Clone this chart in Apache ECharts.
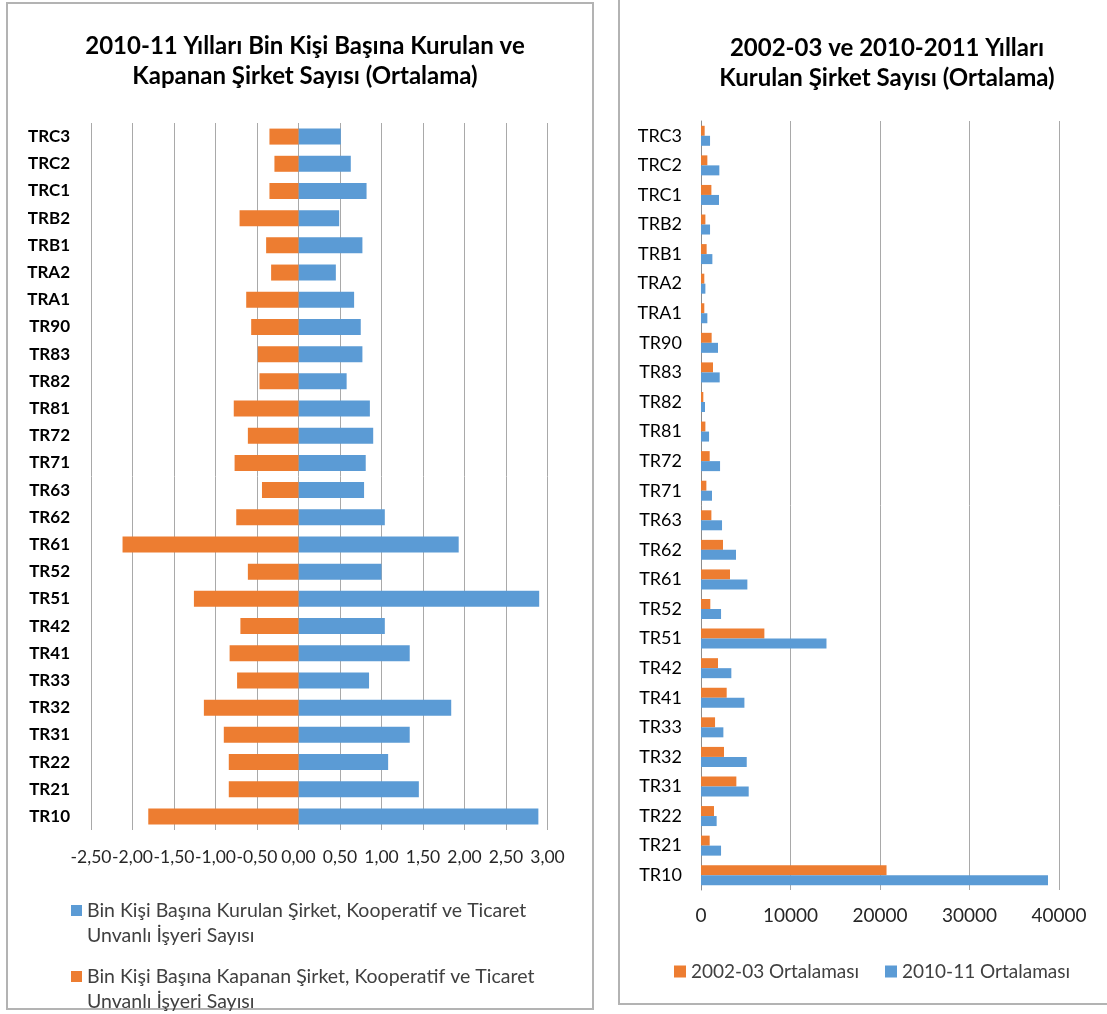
<!DOCTYPE html>
<html>
<head>
<meta charset="utf-8">
<script src="https://cdn.jsdelivr.net/npm/echarts@6/dist/echarts.min.js"></script>
<style>html,body{margin:0;padding:0;background:#fff;}#c{width:1107px;height:1014px;}</style>
</head>
<body>
<div id="c"></div>
<script>
// Categories (top to bottom)
const categories = ['TRC3','TRC2','TRC1','TRB2','TRB1','TRA2','TRA1','TR90','TR83','TR82','TR81','TR72','TR71','TR63','TR62','TR61','TR52','TR51','TR42','TR41','TR33','TR32','TR31','TR22','TR21','TR10'];

// Left chart: per thousand people (2010-11)
const kurulan = [0.51,0.63,0.82,0.49,0.77,0.45,0.67,0.75,0.77,0.58,0.86,0.90,0.81,0.79,1.04,1.93,1.00,2.90,1.04,1.34,0.85,1.84,1.34,1.08,1.45,2.89];
const kapanan = [-0.35,-0.29,-0.35,-0.71,-0.39,-0.33,-0.63,-0.57,-0.49,-0.47,-0.78,-0.61,-0.77,-0.44,-0.75,-2.12,-0.61,-1.26,-0.70,-0.83,-0.74,-1.14,-0.90,-0.84,-0.84,-1.81];

// Right chart: number of companies founded (averages)
const avg0203 = [410,710,1160,490,630,370,370,1190,1340,260,490,970,600,1160,2460,3240,1040,7080,1900,2870,1570,2570,3950,1450,970,20730];
const avg1011 = [1010,2050,2010,1010,1270,490,710,1900,2090,450,900,2130,1230,2350,3910,5180,2240,14020,3390,4850,2500,5110,5330,1750,2240,38770];

const leftTicks = {min: -2.5, max: 3, interval: 0.5};
const rightTicks = {min: 0, max: 40000, interval: 10000};

const nameKurulan = 'Bin Kişi Başına Kurulan Şirket, Kooperatif ve Ticaret Unvanlı İşyeri Sayısı';
const nameKapanan = 'Bin Kişi Başına Kapanan Şirket, Kooperatif ve Ticaret Unvanlı İşyeri Sayısı';
const name0203 = '2002-03 Ortalaması';
const name1011 = '2010-11 Ortalaması';

const FONT = 'Lato, "Open Sans", sans-serif';
const BLUE = '#5B9BD5', ORANGE = '#ED7D31', GRID = '#A9A9A9', BORDER = '#B3B3B3';

const chart = echarts.init(document.getElementById('c'), null, {renderer: 'canvas'});

const wrapLegend = function (name) {
  if (name === nameKurulan) return '\nBin Kişi Başına Kurulan Şirket, Kooperatif ve Ticaret\nUnvanlı İşyeri Sayısı';
  if (name === nameKapanan) return '\nBin Kişi Başına Kapanan Şirket, Kooperatif ve Ticaret\nUnvanlı İşyeri Sayısı';
  return name;
};

chart.setOption({
  animation: false,
  textStyle: {fontFamily: FONT},
  graphic: [
    {type: 'rect', shape: {x: 7, y: 3, width: 586, height: 1006}, style: {fill: 'none', stroke: BORDER, lineWidth: 2}, z: -1},
    {type: 'rect', shape: {x: 619, y: -3, width: 500, height: 1007}, style: {fill: 'none', stroke: BORDER, lineWidth: 2}, z: -1}
  ],
  title: [
    {text: '2010-11 Yılları Bin Kişi Başına Kurulan ve\nKapanan Şirket Sayısı (Ortalama)', left: 300, top: 26, textAlign: 'center',
     textStyle: {fontFamily: FONT, fontSize: 24, fontWeight: 'bold', color: '#000', lineHeight: 30}},
    {text: '2002-03 ve 2010-2011 Yılları\nKurulan Şirket Sayısı (Ortalama)', left: 882, top: 28, textAlign: 'center',
     textStyle: {fontFamily: FONT, fontSize: 24, fontWeight: 'bold', color: '#000', lineHeight: 30}}
  ],
  legend: [
    {data: [nameKurulan], left: 66, top: 868, orient: 'vertical', itemWidth: 11, itemHeight: 11, itemGap: 6,
     formatter: wrapLegend, icon: 'rect', textStyle: {fontFamily: FONT, fontSize: 19.5, color: '#404040', lineHeight: 25}},
    {data: [nameKapanan], left: 66, top: 934, orient: 'vertical', itemWidth: 11, itemHeight: 11, itemGap: 6,
     formatter: wrapLegend, icon: 'rect', textStyle: {fontFamily: FONT, fontSize: 19.5, color: '#404040', lineHeight: 25}},
    {data: [name0203, name1011], left: 669, top: 957, itemWidth: 12, itemHeight: 12, itemGap: 26, icon: 'rect',
     textStyle: {fontFamily: FONT, fontSize: 19, color: '#404040'}}
  ],
  grid: [
    {left: 91, right: 1107 - 547.5, top: 123, height: 707},
    {left: 701, right: 1107 - 1059, top: 121, height: 769}
  ],
  xAxis: [
    {gridIndex: 0, type: 'value', min: leftTicks.min, max: leftTicks.max, interval: leftTicks.interval,
     axisLine: {show: false}, axisTick: {show: false},
     splitLine: {show: true, lineStyle: {color: GRID, width: 1}},
     axisLabel: {margin: 18, fontSize: 17.5, color: '#262626', fontFamily: FONT, showMinLabel: true, showMaxLabel: true, hideOverlap: false,
       formatter: v => v.toFixed(2).replace('.', ',')}},
    {gridIndex: 1, type: 'value', min: rightTicks.min, max: rightTicks.max, interval: rightTicks.interval,
     axisLine: {show: false}, axisTick: {show: false},
     splitLine: {show: true, lineStyle: {color: GRID, width: 1}},
     axisLabel: {margin: 16, fontSize: 19, color: '#262626', fontFamily: FONT, showMinLabel: true, showMaxLabel: true, formatter: v => String(v)}}
  ],
  yAxis: [
    {gridIndex: 0, type: 'category', data: categories, inverse: true,
     axisLine: {show: false, onZero: false}, axisTick: {show: false}, splitLine: {show: false},
     axisLabel: {margin: 21, fontSize: 17, fontWeight: 'bold', color: '#000', fontFamily: FONT}},
    {gridIndex: 1, type: 'category', data: categories, inverse: true,
     axisLine: {show: true, onZero: false, lineStyle: {color: '#8C8C8C'}}, axisTick: {show: false}, splitLine: {show: false},
     axisLabel: {margin: 19, fontSize: 18, color: '#000', fontFamily: FONT}}
  ],
  series: [
    {name: nameKurulan, type: 'bar', xAxisIndex: 0, yAxisIndex: 0, data: kurulan, barWidth: 16, barGap: '-100%',
     itemStyle: {color: BLUE}},
    {name: nameKapanan, type: 'bar', xAxisIndex: 0, yAxisIndex: 0, data: kapanan, barWidth: 16, barGap: '-100%',
     itemStyle: {color: ORANGE}},
    {name: name0203, type: 'bar', xAxisIndex: 1, yAxisIndex: 1, data: avg0203, barWidth: 10, barGap: '0%',
     itemStyle: {color: ORANGE}},
    {name: name1011, type: 'bar', xAxisIndex: 1, yAxisIndex: 1, data: avg1011, barWidth: 10, barGap: '0%',
     itemStyle: {color: BLUE}}
  ]
});
</script>
</body>
</html>
